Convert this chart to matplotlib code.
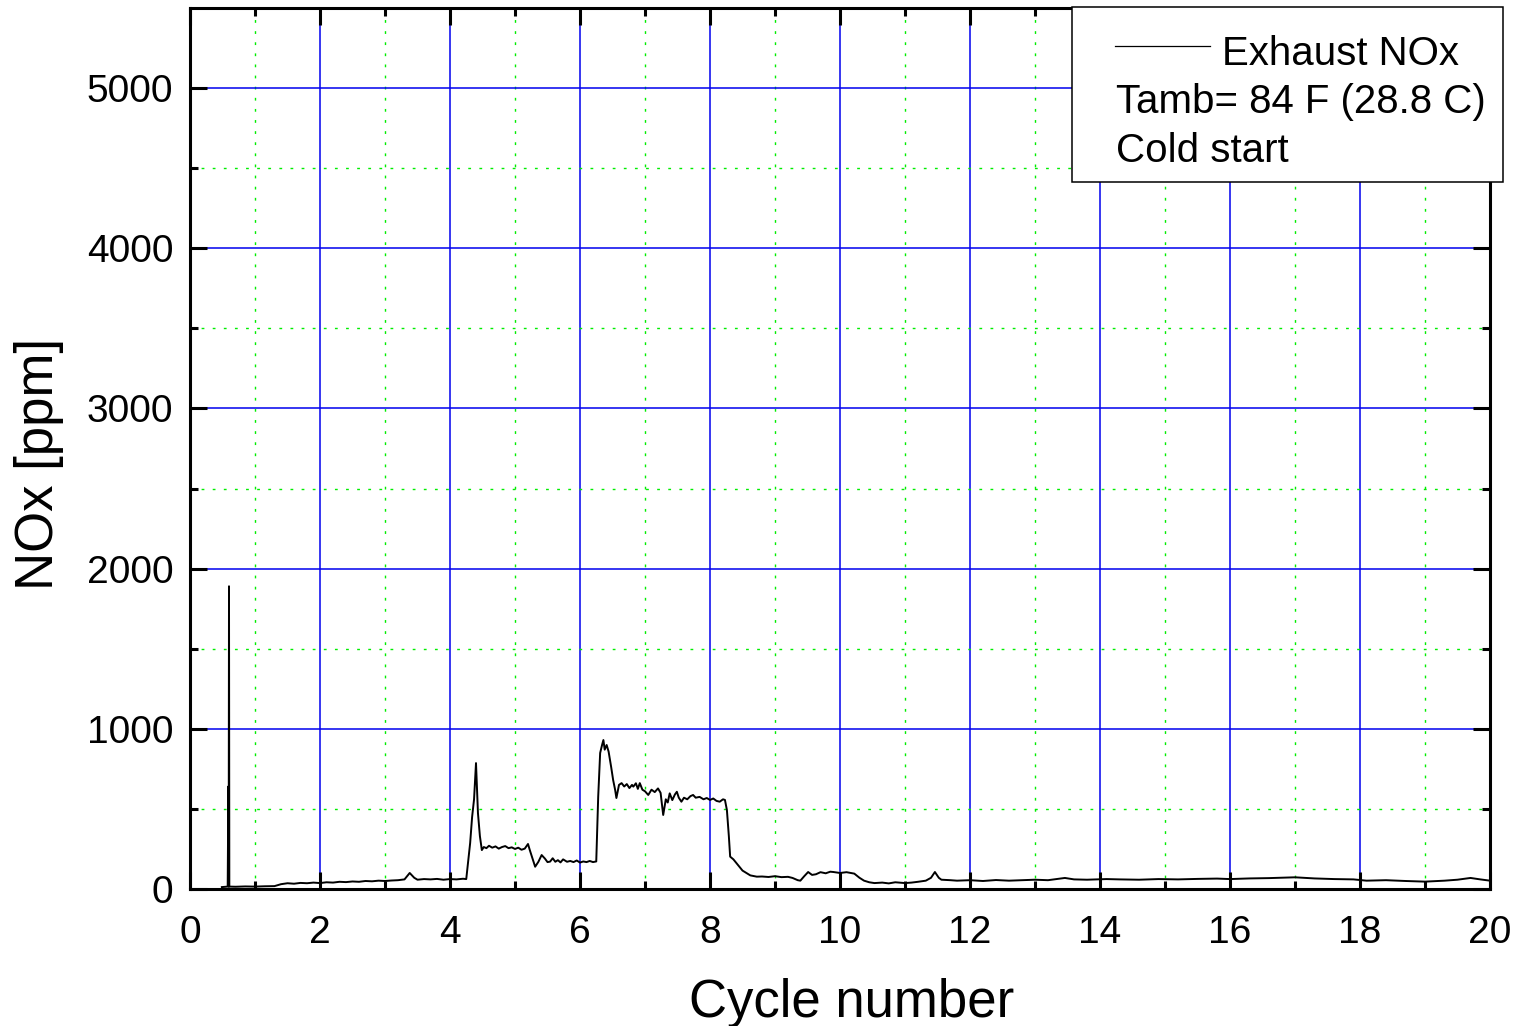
import matplotlib
matplotlib.use("Agg")
import matplotlib.pyplot as plt
from matplotlib.patches import Rectangle
from matplotlib.lines import Line2D
import numpy as np

plt.rcParams['font.family'] = ['Liberation Sans', 'DejaVu Sans']

# exhaust NOx trace
cycle = [0.49, 0.55, 0.58, 0.59, 0.595, 0.60, 0.605, 0.70, 0.85, 1.00, 1.15, 1.30,
         1.40, 1.50, 1.60, 1.70, 1.80, 1.90, 2.00, 2.10, 2.20, 2.30, 2.40, 2.50,
         2.60, 2.70, 2.80, 2.90, 3.00, 3.10, 3.20, 3.30, 3.38, 3.45, 3.50, 3.60,
         3.70, 3.80, 3.90, 4.00, 4.10, 4.20, 4.25, 4.31, 4.34, 4.37, 4.40, 4.43,
         4.46, 4.49, 4.52, 4.56, 4.60, 4.65, 4.70, 4.75, 4.80, 4.85, 4.90, 4.95,
         5.00, 5.05, 5.10, 5.15, 5.20, 5.23, 5.31, 5.36, 5.41, 5.46, 5.50, 5.54,
         5.58, 5.62, 5.66, 5.70, 5.74, 5.80, 5.85, 5.90, 5.95, 6.00, 6.05, 6.10,
         6.15, 6.20, 6.25, 6.28, 6.31, 6.34, 6.36, 6.38, 6.41, 6.44, 6.48, 6.51,
         6.54, 6.56, 6.60, 6.64, 6.68, 6.72, 6.76, 6.80, 6.82, 6.86, 6.89, 6.92,
         6.96, 7.00, 7.05, 7.10, 7.15, 7.20, 7.24, 7.28, 7.32, 7.35, 7.38, 7.42,
         7.46, 7.49, 7.52, 7.56, 7.60, 7.65, 7.70, 7.74, 7.78, 7.84, 7.90, 7.95,
         8.00, 8.05, 8.10, 8.15, 8.20, 8.23, 8.26, 8.29, 8.31, 8.36, 8.41, 8.46,
         8.50, 8.56, 8.62, 8.68, 8.72, 8.80, 8.90, 9.00, 9.10, 9.20, 9.27, 9.35,
         9.39, 9.45, 9.51, 9.57, 9.63, 9.70, 9.78, 9.85, 9.90, 10.00, 10.10, 10.22,
         10.30, 10.37, 10.45, 10.53, 10.65, 10.75, 10.85, 11.00, 11.10, 11.20, 11.32, 11.40,
         11.46, 11.52, 11.56, 11.70, 11.80, 12.00, 12.20, 12.40, 12.60, 12.80, 13.00, 13.20,
         13.46, 13.60, 13.80, 14.10, 14.30, 14.60, 14.90, 15.20, 15.50, 15.80, 16.00, 16.30,
         16.60, 17.00, 17.30, 17.60, 17.90, 18.10, 18.40, 18.70, 19.00, 19.30, 19.50, 19.70,
         19.85, 20.00]
nox = [12, 14, 15, 640, 15, 1890, 15, 14, 16, 15, 17, 18,
       30, 36, 33, 38, 36, 40, 37, 42, 40, 45, 43, 47,
       45, 50, 48, 52, 50, 53, 55, 60, 100, 70, 58, 62,
       60, 63, 58, 62, 60, 64, 62, 287, 449, 560, 786, 474,
       330, 243, 262, 255, 270, 258, 266, 252, 262, 268, 255, 260,
       250, 258, 245, 252, 281, 240, 139, 170, 212, 190, 168, 171,
       192, 170, 180, 166, 185, 170, 175, 168, 178, 165, 172, 168,
       175, 168, 172, 576, 849, 900, 930, 870, 899, 858, 760, 680,
       620, 568, 650, 661, 640, 655, 630, 650, 639, 660, 625, 661,
       620, 610, 587, 620, 605, 628, 600, 462, 560, 540, 597, 555,
       590, 607, 570, 545, 570, 560, 580, 587, 570, 575, 560, 568,
       556, 565, 550, 545, 560, 556, 493, 330, 202, 185, 160, 135,
       115, 100, 85, 80, 77, 78, 75, 80, 74, 76, 69, 55,
       52, 80, 106, 88, 92, 105, 98, 108, 106, 100, 105, 96,
       70, 52, 42, 37, 40, 35, 42, 37, 40, 45, 52, 70,
       106, 70, 58, 55, 52, 55, 50, 56, 52, 55, 58, 55,
       69, 60, 58, 62, 60, 58, 62, 60, 63, 65, 62, 66,
       68, 73, 66, 62, 60, 52, 55, 50, 46, 52, 58, 69,
       60, 52]

x_major = np.arange(0, 21, 2)
y_major = np.arange(0, 5001, 1000)

fig = plt.figure(figsize=(15.2, 10.26), dpi=100)
ax = fig.add_axes([190 / 1520, 137 / 1026, 1300 / 1520, 881 / 1026])

ax.plot(cycle, nox, color='black', linewidth=1.4, zorder=3)

ax.set_xlim(0, 20)
ax.set_ylim(0, 5500)
ax.set_xticks(x_major)
ax.set_xticks(np.arange(1, 20, 2), minor=True)
ax.set_yticks(y_major)
ax.set_yticks(np.arange(500, 5500, 1000), minor=True)

ax.grid(which='major', color='#0000ee', linestyle='-', linewidth=1.1)
ax.grid(which='minor', color='#00ee00', linestyle=(0, (2, 6)), linewidth=1.0)
ax.set_axisbelow(True)

ax.tick_params(which='both', direction='in', top=True, right=True, width=2.2,
               labelsize=28, colors='black')
ax.tick_params(which='major', length=12)
ax.tick_params(which='minor', length=6)
ax.tick_params(axis='x', which='major', pad=19)
ax.tick_params(axis='y', which='major', pad=12)
for s in ax.spines.values():
    s.set_linewidth(2.2)

ax.set_xlabel('Cycle number', fontsize=38)
ax.set_ylabel('NOx [ppm]', fontsize=38)
ax.xaxis.set_label_coords(0.509, -0.101)
ax.yaxis.set_label_coords(-0.097, 0.482)

# legend box drawn by hand (it hangs over the right spine)
W, H = 1520.0, 1026.0
fig.add_artist(Rectangle((1072 / W, 1 - 182 / H), 431 / W, 175 / H,
                         transform=fig.transFigure, facecolor='white',
                         edgecolor='black', linewidth=1.1, zorder=5))
fig.add_artist(Line2D([1115 / W, 1210 / W], [1 - 46 / H, 1 - 46 / H],
                      transform=fig.transFigure, color='black', linewidth=0.9, zorder=6))
fig.text(1222 / W, 1 - 65 / H, 'Exhaust NOx', fontsize=29, va='baseline', zorder=6)
fig.text(1116 / W, 1 - 113 / H, 'Tamb= 84 F (28.8 C)', fontsize=29, va='baseline', zorder=6)
fig.text(1116 / W, 1 - 162 / H, 'Cold start', fontsize=29, va='baseline', zorder=6)

fig.savefig('out.png', dpi=100, facecolor='white')
